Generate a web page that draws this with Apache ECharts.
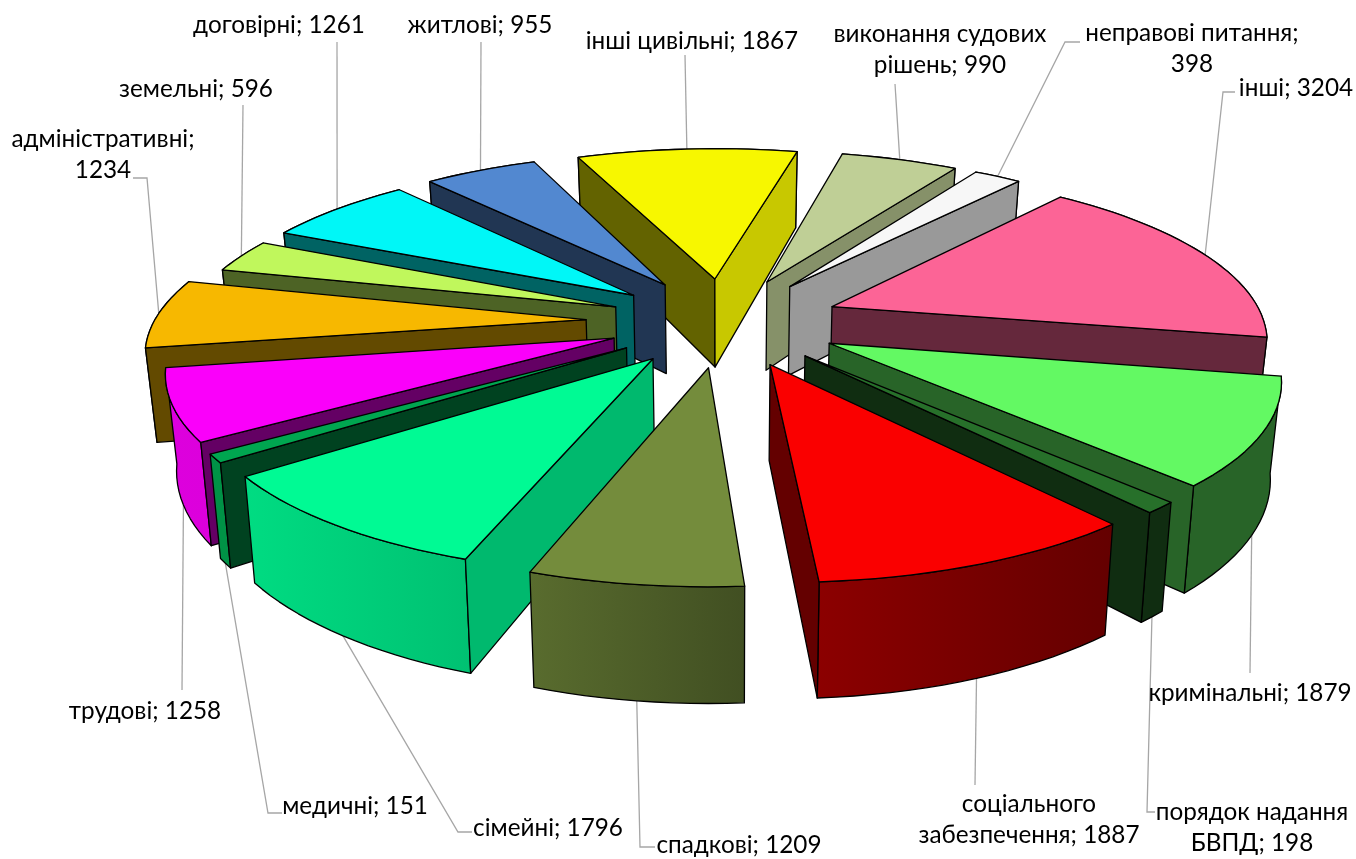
<!DOCTYPE html>
<html>
<head>
<meta charset="utf-8">
<title>Pie</title>
<script src="https://cdn.jsdelivr.net/npm/echarts@6/dist/echarts.min.js"></script>
<style>
    html, body { margin: 0; padding: 0; background: #fff; }
    #chart { width: 1356px; height: 859px; }
</style>
</head>
<body>
<div id="chart"></div>
<script>
const categories = ['інші цивільні', 'виконання судових\nрішень', 'неправові питання', 'інші', 'кримінальні',
    'порядок надання\nБВПД', 'соціального\nзабезпечення', 'спадкові', 'сімейні', 'медичні', 'трудові',
    'адміністративні', 'земельні', 'договірні', 'житлові'];
const values = [1867, 990, 398, 3204, 1879, 198, 1887, 1209, 1796, 151, 1258, 1234, 596, 1261, 955];

// колір верхньої грані
const topColors = ['#f7f700', '#bfcf96', '#f7f7f7', '#fc6496', '#63f963', '#27702a', '#fa0000', '#748c3c',
    '#00fa94', '#00a650', '#fa00fa', '#f7b800', '#c0f75c', '#00f7f7', '#5288d0'];

// підписи: центр тексту, злам лінії, перенос після ";"
const labelLayout = [
    { x: 692, y: 41, path: [[685, 55]] },
    { x: 940, y: 50, path: [[895, 84]] },
    { x: 1192, y: 49, path: [[1065, 42], [1080, 42]], wrap: true },
    { x: 1296, y: 88, path: [[1223, 92], [1235, 92]] },
    { x: 1250, y: 693, path: [[1250, 673]] },
    { x: 1252, y: 828, path: [[1147, 812], [1155, 812]] },
    { x: 1029, y: 820, path: [[975, 785]] },
    { x: 739, y: 845, path: [[640, 847], [655, 847]] },
    { x: 548, y: 828, path: [[458, 832], [472, 832]] },
    { x: 355, y: 806, path: [[268, 813], [282, 813]] },
    { x: 145, y: 711, path: [[182, 690]] },
    { x: 103, y: 155, path: [[147, 178], [133, 178]], wrap: true },
    { x: 196, y: 89, path: [[243, 105]] },
    { x: 279, y: 25, path: [[337, 42]] },
    { x: 480, y: 25, path: [[481, 42]] }
];

const CX = 724, CY = 321.5;    // центр диска
const K = 432, A = 165;        // масштаб по x і по глибині
const P = 0.167;               // перспектива
const H = 92;                  // висота
const FRONT_SHIFT = 3.5;       // передня частина трохи зміщена вправо
const EXPLODE = 0.27;
const EXPLODE_ADM = 0.32;      // адміністративні винесені далі
const ADM_INDEX = 11;
const START = -22.5;
const RAD = Math.PI / 180;

const total = values.reduce((a, b) => a + b, 0);
const angles = [];
let acc = START;
values.forEach((v) => {
    const span = v / total * 360;
    angles.push([acc, acc + span]);
    acc += span;
});

function project(r, deg, mid, drop, e) {
    const x = r * Math.sin(deg * RAD) + e * Math.sin(mid * RAD);
    const z = r * Math.cos(deg * RAD) + e * Math.cos(mid * RAD);
    const s = 1 / (1 + P * z);
    const shift = z < 0 ? -z * FRONT_SHIFT : 0;
    return [CX + shift + K * x * s * (drop ? 0.98 : 1), CY - A * z * s + (drop ? H * s : 0)];
}

function shade(hex, f) {
    const n = parseInt(hex.slice(1), 16);
    const c = [(n >> 16) & 255, (n >> 8) & 255, n & 255].map((v) => Math.round(v * f));
    return 'rgb(' + c.join(',') + ')';
}

// яскравість бічної стінки за напрямком нормалі
function wallShade(n) {
    n = (n + 360) % 360;
    if (n < 105) return 0.81;
    if (n < 112) return 0.74;
    if (n < 125) return 0.7;
    if (n < 135) return 0.62;
    return 0.4;
}

function rimShade(a) {
    a = (a + 360) % 360;
    const pts = [[0, 0.4], [140, 0.4], [176, 0.56], [199, 0.77], [233, 0.88], [360, 0.9]];
    for (let i = 1; i < pts.length; i++) {
        if (a <= pts[i][0]) {
            const t = (a - pts[i - 1][0]) / (pts[i][0] - pts[i - 1][0]);
            return pts[i - 1][1] + t * (pts[i][1] - pts[i - 1][1]);
        }
    }
    return 0.9;
}

function area(p) {
    let s = 0;
    p.forEach((q, i) => {
        const r = p[(i + 1) % p.length];
        s += q[0] * r[1] - r[0] * q[1];
    });
    return s;
}

function renderSlice(params, api) {
    const i = api.value(0);
    const a0 = angles[i][0], a1 = angles[i][1];
    const mid = (a0 + a1) / 2;
    const e = i === ADM_INDEX ? EXPLODE_ADM : EXPLODE;
    const color = topColors[i];
    const z2 = Math.round(100 - 50 * (0.5 + EXPLODE) * Math.cos(mid * RAD));
    const steps = Math.max(2, Math.ceil((a1 - a0) / 2));
    const rimTop = [], rimBottom = [];
    for (let k = 0; k <= steps; k++) {
        const a = a0 + (a1 - a0) * k / steps;
        rimTop.push(project(1, a, mid, false, e));
        rimBottom.push(project(1, a, mid, true, e));
    }
    const tip = project(0, 0, mid, false, e);
    const tipB = project(0, 0, mid, true, e);
    const line = { stroke: '#000', lineWidth: 1.3, lineJoin: 'round' };
    const children = [];

    // зовнішня стінка
    children.push({
        type: 'polygon',
        z2: z2,
        shape: { points: rimTop.concat(rimBottom.slice().reverse()) },
        style: Object.assign({
            fill: new echarts.graphic.LinearGradient(0, 0, 1, 0, [
                { offset: 0, color: shade(color, rimShade(a1)) },
                { offset: 1, color: shade(color, rimShade(a0)) }
            ])
        }, line)
    });
    // радіальні стінки, лише видимі
    const wallA = [tip, rimTop[0], rimBottom[0], tipB];
    if (area(wallA) < 0) {
        children.push({ type: 'polygon', z2: z2 + 1, shape: { points: wallA },
            style: Object.assign({ fill: shade(color, wallShade(a0 - 90)) }, line) });
    }
    const wallB = [tip, rimTop[steps], rimBottom[steps], tipB];
    if (area(wallB) > 0) {
        children.push({ type: 'polygon', z2: z2 + 1, shape: { points: wallB },
            style: Object.assign({ fill: shade(color, wallShade(a1 + 90)) }, line) });
    }
    // верх
    children.push({
        type: 'polygon',
        z2: z2 + 2,
        shape: { points: [tip].concat(rimTop) },
        style: Object.assign({ fill: color }, line)
    });
    return { type: 'group', children: children };
}

function renderLabel(params, api) {
    const i = api.value(0);
    const mid = (angles[i][0] + angles[i][1]) / 2;
    const front = Math.cos(mid * RAD) < 0;
    const start = project(1, mid, mid, front, i === ADM_INDEX ? EXPLODE_ADM : EXPLODE);
    const layout = labelLayout[i];
    const text = categories[i] + (layout.wrap ? ';\n' : '; ') + api.value(1);
    return {
        type: 'group',
        children: [{
            type: 'polyline',
            z2: 1,
            shape: { points: [start].concat(layout.path) },
            style: { stroke: '#a6a6a6', lineWidth: 1.3, fill: null }
        }, {
            type: 'text',
            z2: 200,
            style: {
                text: text,
                x: layout.x,
                y: layout.y,
                align: 'center',
                verticalAlign: 'middle',
                fontFamily: 'Lato, "Noto Sans", sans-serif',
                fontSize: 24.3,
                lineHeight: 31,
                fill: '#000'
            }
        }]
    };
}

const tableData = values.map((v, i) => [i, v]);
const myChart = echarts.init(document.getElementById('chart'), null, { renderer: 'canvas' });
myChart.setOption({
    animation: false,
    backgroundColor: '#fff',
    series: [{
        type: 'custom',
        coordinateSystem: 'none',
        silent: true,
        z: 1,
        data: tableData,
        encode: { value: 1 },
        renderItem: renderLabel
    }, {
        type: 'custom',
        coordinateSystem: 'none',
        silent: true,
        z: 2,
        data: tableData,
        encode: { value: 1 },
        renderItem: renderSlice
    }]
});
</script>
</body>
</html>
